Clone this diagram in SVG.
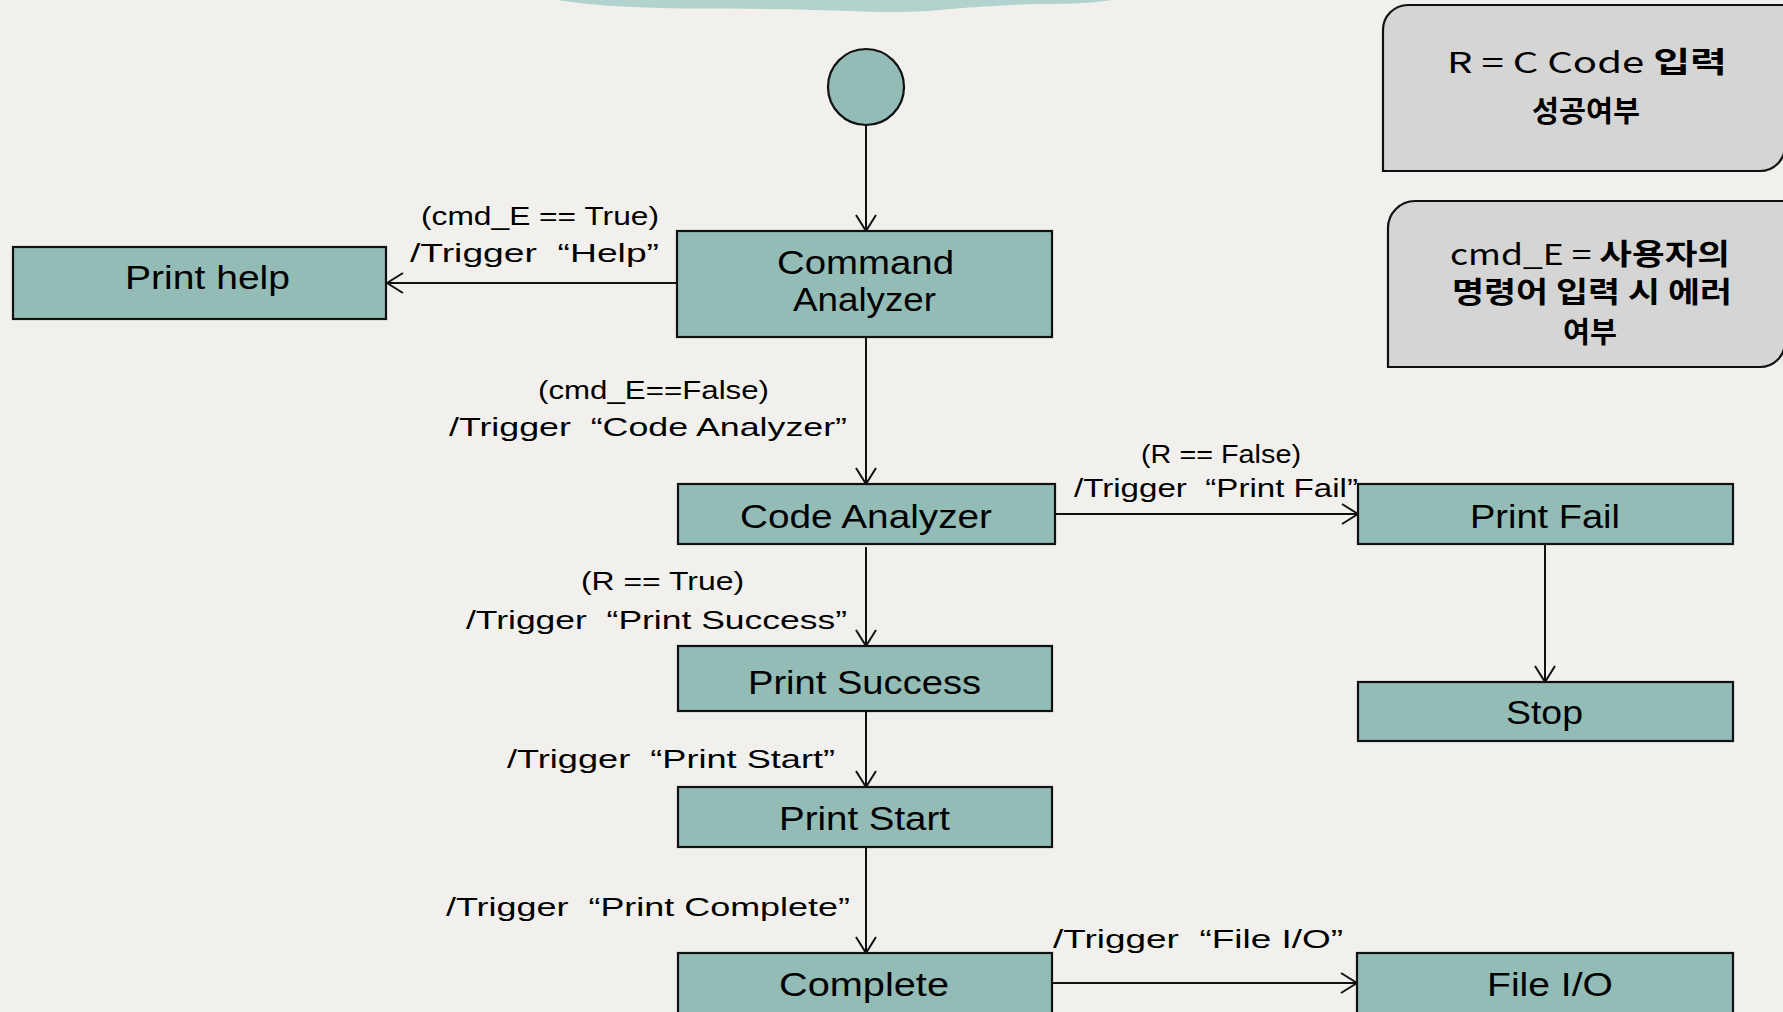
<svg xmlns="http://www.w3.org/2000/svg" width="1783" height="1012" viewBox="0 0 1783 1012">
<defs>
<style>
.bg{fill:#f1f0ec}
.box{fill:#93bcb7;stroke:#111;stroke-width:2.2}
.note{fill:#d5d5d5;stroke:#111;stroke-width:2.2}
.bt{font-family:"Liberation Sans Narrow","Liberation Sans",sans-serif;font-size:34px;fill:#000;text-anchor:middle}
.lb{font-family:"Liberation Sans Narrow","Liberation Sans",sans-serif;font-size:26px;fill:#000;white-space:pre}
.nt{font-family:"Noto Sans CJK KR","Liberation Sans",sans-serif;font-size:29px;fill:#000;text-anchor:middle}
.ko{font-weight:700}
.ln{fill:none;stroke:#111;stroke-width:2;marker-end:url(#arr)}
</style>
<marker id="arr" viewBox="0 0 18 22" refX="17" refY="11" markerWidth="18" markerHeight="22" markerUnits="userSpaceOnUse" orient="auto">
<path d="M1,1 L17,11 L1,21" fill="none" stroke="#111" stroke-width="2"/>
</marker>
</defs>
<rect class="bg" x="0" y="0" width="1783" height="1012"/>
<path d="M557,0 L1112,0 C1100,2 1080,4 1040,4 C1000,5 960,8 940,10 C920,12 900,12 880,12 C840,11 800,9 760,9 C720,8 690,9 660,8 C620,7 590,5 557,0 Z" fill="#b2d2ce"/>

<g id="connectors">
<line class="ln" x1="866" y1="125" x2="866" y2="231"/>
<line class="ln" x1="677" y1="283" x2="387" y2="283"/>
<line class="ln" x1="866" y1="337" x2="866" y2="484"/>
<line class="ln" x1="1055" y1="514" x2="1358" y2="514"/>
<line class="ln" x1="866" y1="547" x2="866" y2="646"/>
<line class="ln" x1="1545" y1="544" x2="1545" y2="682"/>
<line class="ln" x1="866" y1="711" x2="866" y2="787"/>
<line class="ln" x1="866" y1="847" x2="866" y2="953"/>
<line class="ln" x1="1052" y1="983" x2="1357" y2="983"/>
<text class="lb" x="421" y="225" textLength="238" lengthAdjust="spacingAndGlyphs">(cmd_E == True)</text>
<text class="lb" x="410" y="262" textLength="249" lengthAdjust="spacingAndGlyphs">/Trigger  “Help”</text>
<text class="lb" x="538" y="399" textLength="231" lengthAdjust="spacingAndGlyphs">(cmd_E==False)</text>
<text class="lb" x="449" y="436" textLength="398" lengthAdjust="spacingAndGlyphs">/Trigger  “Code Analyzer”</text>
<text class="lb" x="1141" y="463" textLength="160" lengthAdjust="spacingAndGlyphs">(R == False)</text>
<text class="lb" x="1074" y="497" textLength="284" lengthAdjust="spacingAndGlyphs">/Trigger  “Print Fail”</text>
<text class="lb" x="581" y="590" textLength="163" lengthAdjust="spacingAndGlyphs">(R == True)</text>
<text class="lb" x="466" y="629" textLength="381" lengthAdjust="spacingAndGlyphs">/Trigger  “Print Success”</text>
<text class="lb" x="507" y="768" textLength="328" lengthAdjust="spacingAndGlyphs">/Trigger  “Print Start”</text>
<text class="lb" x="446" y="916" textLength="404" lengthAdjust="spacingAndGlyphs">/Trigger  “Print Complete”</text>
<text class="lb" x="1053" y="948" textLength="290" lengthAdjust="spacingAndGlyphs">/Trigger  “File I/O”</text>
</g>

<g id="start"><circle cx="866" cy="87" r="38" class="box"/></g>

<g id="print-help"><rect class="box" x="13" y="247" width="373" height="72"/><text class="bt" x="207.5" y="289" textLength="165" lengthAdjust="spacingAndGlyphs">Print help</text></g>

<g id="command-analyzer"><rect class="box" x="677" y="231" width="375" height="106"/><text class="bt" x="865.5" y="274" textLength="177" lengthAdjust="spacingAndGlyphs">Command</text><text class="bt" x="864.5" y="311" textLength="143" lengthAdjust="spacingAndGlyphs">Analyzer</text></g>

<g id="code-analyzer"><rect class="box" x="678" y="484" width="377" height="60"/><text class="bt" x="866" y="528" textLength="252" lengthAdjust="spacingAndGlyphs">Code Analyzer</text></g>

<g id="print-fail"><rect class="box" x="1358" y="484" width="375" height="60"/><text class="bt" x="1545" y="528" textLength="150" lengthAdjust="spacingAndGlyphs">Print Fail</text></g>

<g id="print-success"><rect class="box" x="678" y="646" width="374" height="65"/><text class="bt" x="864.5" y="694" textLength="233" lengthAdjust="spacingAndGlyphs">Print Success</text></g>

<g id="stop"><rect class="box" x="1358" y="682" width="375" height="59"/><text class="bt" x="1544.5" y="724" textLength="77" lengthAdjust="spacingAndGlyphs">Stop</text></g>

<g id="print-start"><rect class="box" x="678" y="787" width="374" height="60"/><text class="bt" x="864.5" y="830" textLength="171" lengthAdjust="spacingAndGlyphs">Print Start</text></g>

<g id="complete"><rect class="box" x="678" y="953" width="374" height="70"/><text class="bt" x="864" y="996" textLength="170" lengthAdjust="spacingAndGlyphs">Complete</text></g>

<g id="file-io"><rect class="box" x="1357" y="953" width="376" height="70"/><text class="bt" x="1550" y="996" textLength="126" lengthAdjust="spacingAndGlyphs">File I/O</text></g>

<g id="note-r"><path class="note" d="M1383,30 A25,25 0 0 1 1408,5 H1785 V146 A25,25 0 0 1 1760,171 H1383 Z"/><text class="nt" x="1587" y="73" textLength="280" lengthAdjust="spacingAndGlyphs">R = C Code <tspan class="ko">입력</tspan></text><text class="nt ko" x="1586" y="122" textLength="108" lengthAdjust="spacingAndGlyphs">성공여부</text></g>

<g id="note-cmd"><path class="note" d="M1388,228 A27,27 0 0 1 1415,201 H1785 V342 A25,25 0 0 1 1760,367 H1388 Z"/><text class="nt" x="1590" y="265" textLength="280" lengthAdjust="spacingAndGlyphs">cmd_E = <tspan class="ko">사용자의</tspan></text><text class="nt ko" x="1592" y="303" textLength="280" lengthAdjust="spacingAndGlyphs">명령어 입력 시 에러</text><text class="nt ko" x="1590" y="343" textLength="54" lengthAdjust="spacingAndGlyphs">여부</text></g>
</svg>
